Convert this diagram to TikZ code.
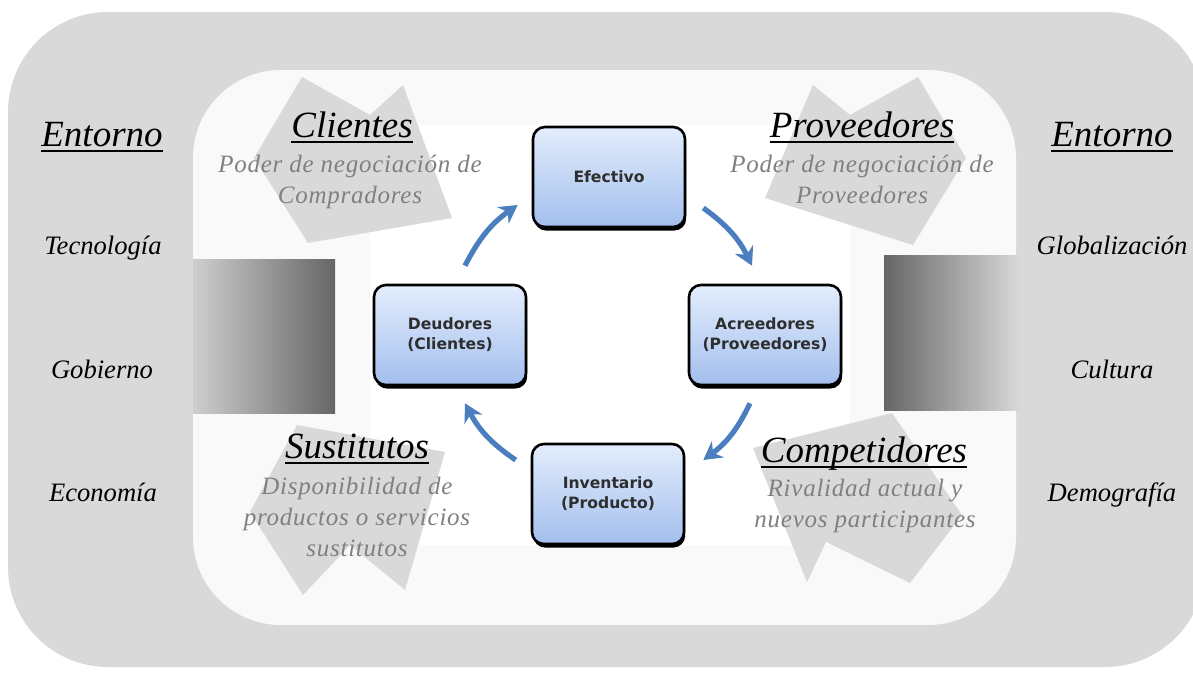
\documentclass[tikz,border=0pt]{standalone}
\usepackage{fontspec}
\setmainfont{Liberation Serif}
\newfontfamily\notefont[LetterSpace=3]{Liberation Serif}
\newfontfamily\boxfont{DejaVu Sans}
\usepackage{xcolor}
\usepackage{tikz}
\usetikzlibrary{positioning}
\usetikzlibrary{shadows}
\usetikzlibrary{arrows.meta}
\definecolor{bggray}{HTML}{D9D9D9}
\definecolor{offwhite}{HTML}{F9F9F9}
\definecolor{notegray}{HTML}{808080}
\definecolor{boxtop}{HTML}{E3EDFC}
\definecolor{boxbot}{HTML}{A3BFEE}
\definecolor{boxtext}{HTML}{2E2E2E}
\definecolor{flowblue}{HTML}{4A7EBF}
\newcommand{\ulined}[1]{\setbox0=\hbox{#1}\leavevmode\rlap{\rule[-3pt]{\wd0}{1.2pt}}\box0}
\tikzset{
    procbox/.style = {rectangle, rounded corners=6pt, draw=black, line width=1.3pt, top color=boxtop, bottom color=boxbot, align=center, minimum width=76pt, minimum height=50pt, text=boxtext, font=\boxfont\bfseries\fontsize{7.8}{10}\selectfont, drop shadow={shadow xshift=0.6pt, shadow yshift=-1.8pt, fill=black, opacity=1}},
    flow/.style = {draw=flowblue, line width=2.6pt, -{Stealth[length=9pt, width=10pt]}, bend left=14},
    force/.style = {anchor=base, font=\itshape\fontsize{18.5}{22}\selectfont},
    forcenote/.style = {anchor=base, align=center, text=notegray, font=\notefont\itshape\fontsize{12.5}{15.5}\selectfont},
    envitem/.style = {anchor=base, font=\itshape\fontsize{13.3}{16}\selectfont},
    bigarrow/.style = {fill=bggray, draw=none},
}
\begin{document}
\begin{tikzpicture}[x=0.5pt, y=-0.5pt]
  \useasboundingbox (0,0) rectangle (1193,675);
  % background frames
  \fill[bggray, rounded corners=50pt] (8,12) rectangle (1205,667);
  \fill[offwhite, rounded corners=44pt] (193,70) rectangle (1016,625);
  \fill[white] (370,125) rectangle (850,545);
  \shade[left color=bggray!95!black, right color=black!60] (193,259) rectangle (335,413);
  \shade[left color=black!60, right color=bggray] (884,255) rectangle (1020,410);

  % the four forces
  \fill[bigarrow] (302,77) -- (370,115) -- (403,85) -- (452,218) -- (308,243) -- (254,158) -- cycle;
  \fill[bigarrow] (918,77) -- (850,115) -- (813,85) -- (765,198) -- (913,245) -- (966,158) -- cycle;
  \fill[bigarrow] (297,425) -- (445,452) -- (405,590) -- (350,545) -- (303,595) -- (250,512) -- cycle;
  \fill[bigarrow] (892,413) -- (962,515) -- (910,583) -- (826,542) -- (807,582) -- (753,448) -- cycle;

  \node[force] (cli) at (352,137) {\ulined{Clientes}};
  \node[forcenote] (clinote) at (350,203) {Poder de negociación de\\Compradores};
  \node[force] (pro) at (862,137) {\ulined{Proveedores}};
  \node[forcenote] (pronote) at (862,203) {Poder de negociación de\\Proveedores};
  \node[force] (sus) at (357,458) {\ulined{Sustitutos}};
  \node[forcenote] (susnote) at (357,556) {Disponibilidad de\\productos o servicios\\sustitutos};
  \node[force] (com) at (864,462) {\ulined{Competidores}};
  \node[forcenote] (comnote) at (865,527) {Rivalidad actual y\\nuevos participantes};

  % environment
  \node[force] (entl) at (102,146) {\ulined{Entorno}};
  \node[envitem] (tec) at (103,254) {Tecnología};
  \node[envitem] (gob) at (102,378) {Gobierno};
  \node[envitem] (eco) at (103,501) {Economía};
  \node[force] (entr) at (1112,146) {\ulined{Entorno}};
  \node[envitem] (glo) at (1112,254) {Globalización};
  \node[envitem] (cul) at (1112,378) {Cultura};
  \node[envitem] (dem) at (1112,501) {Demografía};

  % working capital cycle
  \node[procbox] (efe) at (609,177) {Efectivo};
  \node[procbox] (acr) at (765,335) {Acreedores\\(Proveedores)};
  \node[procbox] (inv) at (608,494) {Inventario\\(Producto)};
  \node[procbox] (deu) at (450,335) {Deudores\\(Clientes)};

  \draw[flow] ([shift={(15,-18)}]deu.north) to ([shift={(-14,28)}]efe.west);
  \draw[flow] ([shift={(17,31)}]efe.east) to ([shift={(-13,-18)}]acr.north);
  \draw[flow] ([shift={(-15,17)}]acr.south) to ([shift={(18,-34)}]inv.east);
  \draw[flow] ([shift={(-15,-34)}]inv.west) to ([shift={(15,17)}]deu.south);
\end{tikzpicture}
\end{document}
